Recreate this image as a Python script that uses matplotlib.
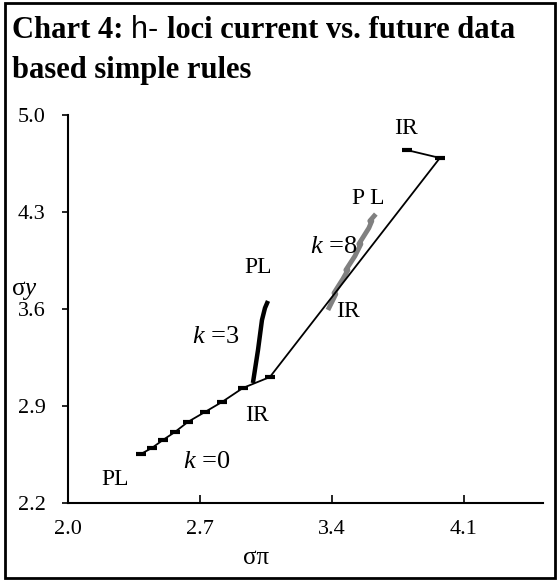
import matplotlib
matplotlib.use("Agg")
import matplotlib.pyplot as plt
from matplotlib.patches import Rectangle

plt.rcParams['font.family'] = ['Liberation Serif', 'DejaVu Serif']
plt.rcParams['mathtext.fontset'] = 'custom'
plt.rcParams['mathtext.rm'] = 'Liberation Serif'
plt.rcParams['mathtext.it'] = 'Liberation Serif:italic'

# ---- data ----
k0_x = [2.387, 2.445, 2.504, 2.567, 2.636, 2.727, 2.817, 2.928, 3.071, 3.973, 3.798]
k0_y = [2.554, 2.597, 2.655, 2.712, 2.785, 2.857, 2.929, 3.030, 3.109, 4.690, 4.747]

k3_x = [2.981, 3.008, 3.029, 3.045, 3.061]
k3_y = [3.066, 3.304, 3.520, 3.607, 3.658]

k8_x = [3.379, 3.421, 3.411, 3.458, 3.485, 3.474, 3.522, 3.554, 3.543, 3.596, 3.612, 3.601, 3.633]
k8_y = [3.593, 3.708, 3.715, 3.816, 3.881, 3.881, 3.982, 4.069, 4.069, 4.184, 4.235, 4.235, 4.285]

x_ticks = [2.0, 2.7, 3.4, 4.1]
y_ticks = [2.2, 2.9, 3.6, 4.3, 5.0]

labels = [
    ("PL", 2.249, 2.366),
    ("$\\mathit{k}$ =0", 2.735, 2.496),
    ("IR", 3.002, 2.835),
    ("$\\mathit{k}$ =3", 2.785, 3.398),
    ("PL", 3.008, 3.896),
    ("$\\mathit{k}$ =8", 3.410, 4.047),
    ("P L", 3.591, 4.401),
    ("IR", 3.485, 3.585),
    ("IR", 3.792, 4.906),
]

W, H = 560, 581
fig = plt.figure(figsize=(W / 100, H / 100), dpi=100)

def fx(px):
    return px / W

def fy(py):
    return 1 - py / H

ax = fig.add_axes([fx(68), fy(503), fx(543) - fx(68), fy(115) - fy(503)])
ax.set_xlim(2.0, 4.52)
ax.set_ylim(2.2, 5.0)

ax.plot(k0_x, k0_y, color='black', lw=1.3, marker='_', ms=7, mew=3, zorder=3)
ax.plot(k3_x, k3_y, color='black', lw=3.2, solid_capstyle='butt', zorder=4)
ax.plot(k8_x, k8_y, color='#808080', lw=3.5, solid_capstyle='butt', zorder=2)

for txt, x, y in labels:
    fs = 19 if 'k' in txt else 17
    ax.text(x, y, txt, ha='center', va='center', fontsize=fs)

ax.set_xticks(x_ticks)
ax.set_xticklabels([f"{v:.1f}" for v in x_ticks], fontsize=16)
ax.set_yticks(y_ticks)
ax.set_yticklabels([f"{v:.1f}" for v in y_ticks], fontsize=16)
ax.tick_params(axis='x', direction='in', length=6, width=1.2, pad=12)
ax.tick_params(axis='y', direction='out', length=4, width=1.2, pad=12)
for s in ['top', 'right']:
    ax.spines[s].set_visible(False)
for s in ['left', 'bottom']:
    ax.spines[s].set_linewidth(1.5)

fig.text(fx(256), fy(558), "σπ", ha='center', va='center', fontsize=18)
fig.text(fx(24), fy(291), "σ$\\mathit{y}$", ha='center', va='center', fontsize=18)

# outer frame
fig.patches.append(Rectangle((fx(5), fy(578)), fx(555) - fx(5), fy(3) - fy(578),
                             transform=fig.transFigure, fill=False, lw=2, ec='black'))

# title (mixed fonts)
fig.canvas.draw()
r = fig.canvas.get_renderer()
tsize = 22
x0 = fx(12)
ybase1 = fy(38)
t1 = fig.text(x0, ybase1, "Chart 4: ", fontsize=tsize, fontweight='bold', va='baseline')
bb = t1.get_window_extent(r)
t2 = fig.text(bb.x1 / W, ybase1, "h- ", fontsize=tsize, family=['Liberation Sans'], va='baseline')
bb2 = t2.get_window_extent(r)
fig.text(bb2.x1 / W, ybase1, "loci current vs. future data", fontsize=tsize,
         fontweight='bold', va='baseline')
fig.text(x0, fy(78), "based simple rules", fontsize=tsize, fontweight='bold', va='baseline')

fig.savefig("out.png", dpi=100)
